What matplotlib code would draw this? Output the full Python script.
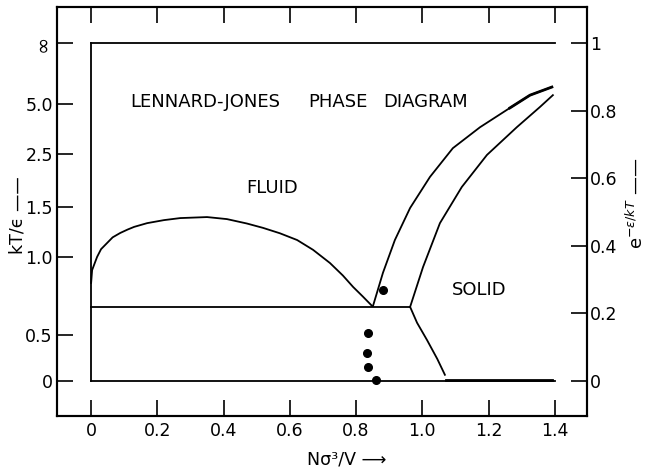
import numpy as np
import matplotlib
matplotlib.use("Agg")
import matplotlib.pyplot as plt

# Lennard-Jones phase diagram: density N sigma^3/V vs exp(-eps/kT)

# liquid-vapour coexistence dome
gl_x = [0.0, 0.003, 0.018, 0.03, 0.048, 0.065, 0.088, 0.11, 0.130, 0.169,
        0.220, 0.269, 0.35, 0.41, 0.47, 0.519, 0.57, 0.622, 0.67, 0.721,
        0.76, 0.791, 0.82, 0.848]
gl_y = [0.29, 0.328, 0.367, 0.39, 0.408, 0.425, 0.438, 0.448, 0.456, 0.467,
        0.476, 0.482, 0.485, 0.479, 0.466, 0.453, 0.437, 0.417, 0.388, 0.349,
        0.312, 0.278, 0.25, 0.222]

# freezing line (fluid side of fluid-solid coexistence)
freeze_x = [0.851, 0.881, 0.917, 0.963, 1.023, 1.092, 1.174, 1.264, 1.325, 1.391]
freeze_y = [0.222, 0.320, 0.417, 0.512, 0.604, 0.689, 0.751, 0.808, 0.846, 0.870]

# melting line (solid side of fluid-solid coexistence)
melt_x = [0.963, 1.002, 1.053, 1.119, 1.195, 1.285, 1.355, 1.394]
melt_y = [0.219, 0.337, 0.467, 0.574, 0.669, 0.751, 0.811, 0.846]

# solid branch below the triple point
subl_x = [0.963, 0.984, 1.014, 1.045, 1.068]
subl_y = [0.219, 0.172, 0.121, 0.065, 0.018]

# triple line
triple_y = 0.219
triple_x = [0.0, 0.963]

# simulation points
dot_x = [0.882, 0.835, 0.832, 0.835, 0.86]
dot_y = [0.269, 0.142, 0.083, 0.041, 0.003]

# axis ticks
x_ticks = [0.0, 0.2, 0.4, 0.6, 0.8, 1.0, 1.2, 1.4]
x_labels = ["0", "0.2", "0.4", "0.6", "0.8", "1.0", "1.2", "1.4"]
right_ticks = [0.0, 0.2, 0.4, 0.6, 0.8, 1.0]
right_labels = ["0", "0.2", "0.4", "0.6", "0.8", "1"]
kT_values = [0.0, 0.5, 1.0, 1.5, 2.5, 5.0, np.inf]
kT_labels = ["0", "0.5", "1.0", "1.5", "2.5", "5.0", "\u221e"]

plt.rcParams['font.family'] = ['DejaVu Sans']
fs = 12.5

fig = plt.figure(figsize=(6.49, 4.72), dpi=100)
ax = fig.add_axes([57 / 649, 1 - 416 / 472, 530 / 649, 409 / 472])
ax.set_xlim(-0.103, 1.497)
ax.set_ylim(-0.104, 1.107)

lw = 1.3
col = "black"
# outline of the diagram region
ax.plot([0, 1.4], [1, 1], color=col, lw=lw)
ax.plot([0, 0], [0, 1], color=col, lw=lw)
ax.plot([0, 1.4], [0, 0], color=col, lw=lw)
ax.plot([1.07, 1.39], [0.002, 0.002], color=col, lw=2.0)

ax.plot(gl_x, gl_y, color=col, lw=lw)
ax.plot(freeze_x, freeze_y, color=col, lw=lw)
ax.plot(freeze_x[-3:], freeze_y[-3:], color=col, lw=2.0)
ax.plot(melt_x, melt_y, color=col, lw=lw)
ax.plot(subl_x, subl_y, color=col, lw=lw)
ax.plot(triple_x, [triple_y, triple_y], color=col, lw=lw)
ax.plot(dot_x, dot_y, "o", color=col, ms=5.5, mec=col)

# title words, spaced out across the upper region
for word, xw in [("LENNARD-JONES", 0.118), ("PHASE", 0.656), ("DIAGRAM", 0.881)]:
    ax.text(xw, 0.825, word, fontsize=13, ha="left", va="center")
ax.text(0.545, 0.571, "FLUID", fontsize=13, ha="center", va="center")
ax.text(1.172, 0.269, "SOLID", fontsize=13, ha="center", va="center")

for s in ax.spines.values():
    s.set_linewidth(1.5)

tick_len = 11.5
ax.set_xticks(x_ticks)
ax.set_xticklabels(x_labels)
ax.tick_params(axis="x", direction="in", length=tick_len, width=1.2,
               top=True, labeltop=False, labelsize=fs, pad=4)

left_pos = [0.0 if v == 0 else np.exp(-1.0 / v) for v in kT_values]
ax.set_yticks(left_pos)
ax.set_yticklabels(kT_labels)
ax.tick_params(axis="y", direction="in", length=tick_len, width=1.2,
               labelsize=fs, pad=3)
inf_label = ax.get_yticklabels()[-1]
inf_label.set_rotation(90)
inf_label.set_fontsize(15)
inf_label.set_va("center")

ax2 = ax.twinx()
ax2.set_ylim(ax.get_ylim())
ax2.set_yticks(right_ticks)
ax2.set_yticklabels(right_labels)
ax2.tick_params(axis="y", direction="in", length=tick_len, width=1.2,
                labelsize=fs, pad=2)
for s in ax2.spines.values():
    s.set_linewidth(1.5)

dash = "\u2014\u2014"
fig.text(17 / 649, 1 - 215 / 472, "kT/\u03f5 " + dash, rotation=90,
         ha="center", va="center", fontsize=fs)
fig.text(636 / 649, 1 - 203 / 472, r"$\mathrm{e}^{-\epsilon/kT}$ " + dash,
         rotation=90, ha="center", va="center", fontsize=13)
fig.text(347 / 649, 1 - 460 / 472, "N\u03c3\u00b3/V \u27f6", ha="center",
         va="center", fontsize=fs)

fig.savefig("out.png", dpi=100)
